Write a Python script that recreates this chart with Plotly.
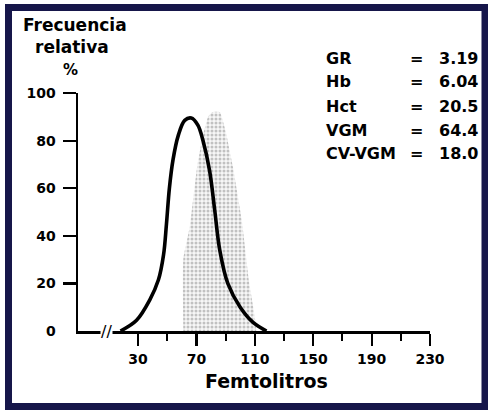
import plotly.graph_objects as go

# ---- data ----
curve_fl = [18, 29, 38, 44, 47.5, 49.5, 51.5, 54, 57.5, 62, 66.5, 71, 74.5, 79, 82.5, 86, 91.5, 100, 109, 118]
curve_pct = [0, 4.5, 13, 21.5, 32, 45, 60, 72, 82, 88.5, 89.5, 86.5, 80, 67.5, 51, 34, 20, 10, 3.5, 0]

ref_fl = [61, 61, 65.5, 70.5, 74.5, 78, 81, 86, 90, 95, 101, 106, 110, 111]
ref_pct = [0, 30, 44, 69, 82, 90, 92, 92, 84, 69, 47, 21, 6, 0]

x_ticks = [30, 70, 110, 150, 190, 230]
x_minor = [50, 90, 130, 170, 210]
y_ticks = [20, 40, 60, 80, 100]

stat_labels = ["GR", "Hb", "Hct", "VGM", "CV-VGM"]
stat_values = ["3.19", "6.04", "20.5", "64.4", "18.0"]

# ---- layout geometry (pixels) ----
W, H = 488, 411
L, R, T, B = 78, 430, 93, 331  # plot area edges


def px(xp):
    return (xp - L) / (R - L)


def py(yp):
    return (B - yp) / (B - T)


FONT = "DejaVu Sans"
fig = go.Figure()

fig.add_trace(go.Scatter(
    x=ref_fl, y=ref_pct, mode="lines",
    line=dict(width=0, color="rgba(0,0,0,0)", shape="spline", smoothing=0.4),
    fill="tozeroy", fillcolor="rgba(0,0,0,0)",
    fillpattern=dict(shape=".", fgcolor="#8c8c8c", bgcolor="#f7f7f7", size=4, solidity=0.45),
    hoverinfo="skip", showlegend=False,
))

fig.add_trace(go.Scatter(
    x=curve_fl, y=curve_pct, mode="lines",
    line=dict(width=3.6, color="black", shape="spline", smoothing=1.0),
    hoverinfo="skip", showlegend=False,
))

fig.update_xaxes(
    range=[-11.1, 230], showline=True, linewidth=2.5, linecolor="black",
    tickvals=x_ticks, ticktext=[str(v) for v in x_ticks],
    ticks="outside", ticklen=12, tickwidth=2.2, tickcolor="black",
    minor=dict(tickvals=x_minor, ticks="outside", ticklen=7, tickwidth=2, tickcolor="black"),
    tickfont=dict(family=FONT, size=14, color="black", weight="bold"),
    ticklabelstandoff=2,
    showgrid=False, zeroline=False,
)
fig.update_yaxes(
    range=[0, 100], showline=True, linewidth=2.5, linecolor="black",
    tickvals=y_ticks, ticktext=[str(v) for v in y_ticks],
    ticks="outside", ticklen=13, tickwidth=2.2, tickcolor="black",
    tickfont=dict(family=FONT, size=14, color="black", weight="bold"),
    ticklabelstandoff=4,
    showgrid=False, zeroline=False,
)

ann = []
bold = lambda s: dict(family=FONT, size=s, color="black", weight="bold")
# y-axis label
ann.append(dict(text="Frecuencia", x=px(75), y=py(25), xref="paper", yref="paper",
                showarrow=False, font=bold(17), xanchor="center", yanchor="middle"))
ann.append(dict(text="relativa", x=px(72), y=py(47), xref="paper", yref="paper",
                showarrow=False, font=bold(17), xanchor="center", yanchor="middle"))
ann.append(dict(text="%", x=px(70), y=py(70), xref="paper", yref="paper",
                showarrow=False, font=bold(15), xanchor="center", yanchor="middle"))
# zero label
ann.append(dict(text="0", x=px(58), y=0, xref="paper", yref="y",
                showarrow=False, font=bold(14), xanchor="right", yanchor="middle"))
# x-axis title
ann.append(dict(text="Femtolitros", x=px(266), y=py(381), xref="paper", yref="paper",
                showarrow=False, font=bold(19), xanchor="center", yanchor="middle"))
# axis break
ann.append(dict(text="//", x=8.1, y=0, xref="x", yref="y", showarrow=False,
                font=dict(family=FONT, size=16, color="black"), bgcolor="white",
                borderpad=0, xanchor="center", yanchor="middle"))
# stats block
rows = [58, 82, 106, 130, 153]
for lab, val, r in zip(stat_labels, stat_values, rows):
    ann.append(dict(text=lab, x=px(324), y=py(r), xref="paper", yref="paper",
                    showarrow=False, font=bold(16), xanchor="left", yanchor="middle"))
    ann.append(dict(text="=", x=px(416), y=py(r), xref="paper", yref="paper",
                    showarrow=False, font=bold(16), xanchor="center", yanchor="middle"))
    ann.append(dict(text=val, x=px(437), y=py(r), xref="paper", yref="paper",
                    showarrow=False, font=bold(16), xanchor="left", yanchor="middle"))

shapes = [dict(type="rect", xref="paper", yref="paper",
               x0=px(8.5), x1=px(485), y0=py(406.5), y1=py(7.5),
               line=dict(color="#16164a", width=7), fillcolor="rgba(0,0,0,0)", layer="below")]

fig.update_layout(
    width=W, height=H,
    margin=dict(l=L, r=W - R, t=T, b=H - B, pad=0),
    paper_bgcolor="white", plot_bgcolor="white",
    annotations=ann, shapes=shapes, showlegend=False,
)

fig.write_html("out.html", config={"displayModeBar": False, "staticPlot": True},
               post_script="document.body.style.margin='0px';document.body.style.overflow='hidden';")
